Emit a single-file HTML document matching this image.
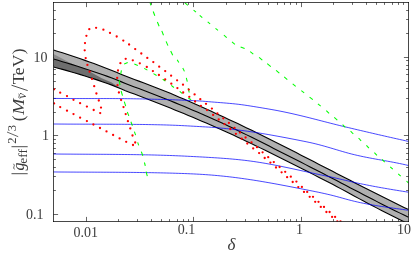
<!DOCTYPE html>
<html><head><meta charset="utf-8"><title>plot</title>
<style>
html,body{margin:0;padding:0;background:#fff;}
svg{display:block;will-change:transform;opacity:0.999;}
text{font-family:"Liberation Serif",serif;}
</style></head><body>
<svg width="415" height="264" viewBox="0 0 415 264">
<rect width="415" height="264" fill="#fff"/>
<defs><clipPath id="c"><rect x="53.5" y="2.5" width="355.0" height="219.0"/></clipPath></defs>
<g clip-path="url(#c)">
</g>
<path d="M86.5,221.5 v-4.6 M86.5,2.5 v4.6 M118.5,221.5 v-2.4 M118.5,2.5 v2.4 M137.5,221.5 v-2.4 M137.5,2.5 v2.4 M151.5,221.5 v-2.4 M151.5,2.5 v2.4 M161.5,221.5 v-2.4 M161.5,2.5 v2.4 M169.5,221.5 v-2.4 M169.5,2.5 v2.4 M177.5,221.5 v-2.4 M177.5,2.5 v2.4 M183.5,221.5 v-2.4 M183.5,2.5 v2.4 M188.5,221.5 v-2.4 M188.5,2.5 v2.4 M193.5,221.5 v-4.6 M193.5,2.5 v4.6 M226.5,221.5 v-2.4 M226.5,2.5 v2.4 M245.5,221.5 v-2.4 M245.5,2.5 v2.4 M258.5,221.5 v-2.4 M258.5,2.5 v2.4 M268.5,221.5 v-2.4 M268.5,2.5 v2.4 M277.5,221.5 v-2.4 M277.5,2.5 v2.4 M284.5,221.5 v-2.4 M284.5,2.5 v2.4 M290.5,221.5 v-2.4 M290.5,2.5 v2.4 M296.5,221.5 v-2.4 M296.5,2.5 v2.4 M301.5,221.5 v-4.6 M301.5,2.5 v4.6 M333.5,221.5 v-2.4 M333.5,2.5 v2.4 M352.5,221.5 v-2.4 M352.5,2.5 v2.4 M366.5,221.5 v-2.4 M366.5,2.5 v2.4 M376.5,221.5 v-2.4 M376.5,2.5 v2.4 M384.5,221.5 v-2.4 M384.5,2.5 v2.4 M392.5,221.5 v-2.4 M392.5,2.5 v2.4 M398.5,221.5 v-2.4 M398.5,2.5 v2.4 M403.5,221.5 v-2.4 M403.5,2.5 v2.4 M53.5,214.5 h4.6 M408.5,214.5 h-4.6 M53.5,190.5 h2.4 M408.5,190.5 h-2.4 M53.5,176.5 h2.4 M408.5,176.5 h-2.4 M53.5,167.5 h2.4 M408.5,167.5 h-2.4 M53.5,159.5 h2.4 M408.5,159.5 h-2.4 M53.5,153.5 h2.4 M408.5,153.5 h-2.4 M53.5,148.5 h2.4 M408.5,148.5 h-2.4 M53.5,143.5 h2.4 M408.5,143.5 h-2.4 M53.5,139.5 h2.4 M408.5,139.5 h-2.4 M53.5,135.5 h4.6 M408.5,135.5 h-4.6 M53.5,112.5 h2.4 M408.5,112.5 h-2.4 M53.5,98.5 h2.4 M408.5,98.5 h-2.4 M53.5,88.5 h2.4 M408.5,88.5 h-2.4 M53.5,81.5 h2.4 M408.5,81.5 h-2.4 M53.5,74.5 h2.4 M408.5,74.5 h-2.4 M53.5,69.5 h2.4 M408.5,69.5 h-2.4 M53.5,65.5 h2.4 M408.5,65.5 h-2.4 M53.5,60.5 h2.4 M408.5,60.5 h-2.4 M53.5,57.5 h4.6 M408.5,57.5 h-4.6 M53.5,33.5 h2.4 M408.5,33.5 h-2.4 M53.5,19.5 h2.4 M408.5,19.5 h-2.4 M53.5,10.5 h2.4 M408.5,10.5 h-2.4" stroke="#000" stroke-width="0.6" fill="none"/>
<g clip-path="url(#c)">
<path d="M53.50,50.03 L57.99,51.42 L62.49,52.85 L66.98,54.30 L71.47,55.78 L75.97,57.28 L80.46,58.81 L84.96,60.38 L89.45,61.96 L93.94,63.59 L98.44,65.28 L102.93,67.01 L107.42,68.78 L111.92,70.56 L116.41,72.36 L120.91,74.16 L125.40,75.94 L129.89,77.70 L134.39,79.43 L138.88,81.13 L143.37,82.82 L147.87,84.50 L152.36,86.20 L156.85,87.93 L161.35,89.68 L165.84,91.49 L170.34,93.35 L174.83,95.26 L179.32,97.17 L183.82,99.11 L188.31,101.06 L192.80,103.03 L197.30,105.02 L201.79,107.02 L206.28,109.04 L210.78,111.08 L215.27,113.13 L219.77,115.20 L224.26,117.28 L228.75,119.38 L233.25,121.49 L237.74,123.62 L242.23,125.76 L246.73,127.92 L251.22,130.09 L255.72,132.27 L260.21,134.47 L264.70,136.69 L269.20,138.93 L273.69,141.18 L278.18,143.44 L282.68,145.71 L287.17,147.99 L291.66,150.29 L296.16,152.59 L300.65,154.89 L305.15,157.20 L309.64,159.52 L314.13,161.84 L318.63,164.16 L323.12,166.48 L327.61,168.79 L332.11,171.11 L336.60,173.42 L341.09,175.74 L345.59,178.05 L350.08,180.35 L354.58,182.66 L359.07,184.95 L363.56,187.24 L368.06,189.53 L372.55,191.81 L377.04,194.07 L381.54,196.33 L386.03,198.58 L390.53,200.81 L395.02,203.03 L399.51,205.24 L404.01,207.43 L408.50,209.60 L408.50,224.03 L404.01,221.79 L399.51,219.54 L395.02,217.27 L390.53,215.00 L386.03,212.71 L381.54,210.42 L377.04,208.12 L372.55,205.81 L368.06,203.45 L363.56,201.06 L359.07,198.63 L354.58,196.19 L350.08,193.75 L345.59,191.30 L341.09,188.88 L336.60,186.47 L332.11,184.10 L327.61,181.77 L323.12,179.46 L318.63,177.16 L314.13,174.87 L309.64,172.59 L305.15,170.31 L300.65,168.05 L296.16,165.78 L291.66,163.52 L287.17,161.26 L282.68,159.00 L278.18,156.76 L273.69,154.52 L269.20,152.29 L264.70,150.08 L260.21,147.88 L255.72,145.70 L251.22,143.53 L246.73,141.38 L242.23,139.27 L237.74,137.18 L233.25,135.12 L228.75,133.08 L224.26,131.06 L219.77,129.05 L215.27,127.06 L210.78,125.08 L206.28,123.11 L201.79,121.17 L197.30,119.24 L192.80,117.34 L188.31,115.45 L183.82,113.59 L179.32,111.73 L174.83,109.89 L170.34,108.07 L165.84,106.25 L161.35,104.45 L156.85,102.67 L152.36,100.90 L147.87,99.16 L143.37,97.44 L138.88,95.74 L134.39,94.07 L129.89,92.41 L125.40,90.67 L120.91,88.80 L116.41,86.92 L111.92,85.12 L107.42,83.48 L102.93,81.90 L98.44,80.36 L93.94,78.87 L89.45,77.42 L84.96,76.00 L80.46,74.61 L75.97,73.26 L71.47,71.94 L66.98,70.65 L62.49,69.40 L57.99,68.18 L53.50,67.01Z" fill="#b0b0b0" stroke="none"/>
<path d="M53.5,54 L75,65.5 L53.5,59.0 Z" fill="#8a8a8a"/>
<path d="M53.50,59.00 L56.36,59.84 L59.23,60.69 L62.09,61.54 L64.95,62.41 L67.82,63.27 L70.68,64.15 L73.55,65.04 L76.41,65.94 L79.27,66.85 L82.14,67.77 L85.00,68.71 L91.90,72.80 L101.70,78.30 L111.60,82.40 L121.00,88.84 L121.00,88.84 L118.19,87.66 L115.38,86.51 L112.56,85.38 L109.75,84.33 L106.94,83.31 L104.12,82.32 L101.31,81.34 L98.50,80.38 L95.69,79.45 L92.88,78.52 L90.06,77.61 L87.25,76.72 L84.44,75.84 L81.62,74.97 L78.81,74.12 L76.00,73.27 L73.19,72.44 L70.38,71.62 L67.56,70.82 L64.75,70.03 L61.94,69.25 L59.12,68.49 L56.31,67.75 L53.50,67.01Z" fill="#6e6e6e"/>
<path d="M53.50,50.03 L57.99,51.42 L62.49,52.85 L66.98,54.30 L71.47,55.78 L75.97,57.28 L80.46,58.81 L84.96,60.38 L89.45,61.96 L93.94,63.59 L98.44,65.28 L102.93,67.01 L107.42,68.78 L111.92,70.56 L116.41,72.36 L120.91,74.16 L125.40,75.94 L129.89,77.70 L134.39,79.43 L138.88,81.13 L143.37,82.82 L147.87,84.50 L152.36,86.20 L156.85,87.93 L161.35,89.68 L165.84,91.49 L170.34,93.35 L174.83,95.26 L179.32,97.17 L183.82,99.11 L188.31,101.06 L192.80,103.03 L197.30,105.02 L201.79,107.02 L206.28,109.04 L210.78,111.08 L215.27,113.13 L219.77,115.20 L224.26,117.28 L228.75,119.38 L233.25,121.49 L237.74,123.62 L242.23,125.76 L246.73,127.92 L251.22,130.09 L255.72,132.27 L260.21,134.47 L264.70,136.69 L269.20,138.93 L273.69,141.18 L278.18,143.44 L282.68,145.71 L287.17,147.99 L291.66,150.29 L296.16,152.59 L300.65,154.89 L305.15,157.20 L309.64,159.52 L314.13,161.84 L318.63,164.16 L323.12,166.48 L327.61,168.79 L332.11,171.11 L336.60,173.42 L341.09,175.74 L345.59,178.05 L350.08,180.35 L354.58,182.66 L359.07,184.95 L363.56,187.24 L368.06,189.53 L372.55,191.81 L377.04,194.07 L381.54,196.33 L386.03,198.58 L390.53,200.81 L395.02,203.03 L399.51,205.24 L404.01,207.43 L408.50,209.60" fill="none" stroke="#000" stroke-width="1.1"/>
<path d="M53.50,59.00 L57.99,60.32 L62.49,61.66 L66.98,63.02 L71.47,64.39 L75.97,65.80 L80.46,67.23 L84.96,68.69 L89.45,70.20 L93.94,71.73 L98.44,73.27 L102.93,74.83 L107.42,76.39 L111.92,77.99 L116.41,79.76 L120.91,81.63 L125.40,83.49 L129.89,85.24 L134.39,86.90 L138.88,88.57 L143.37,90.26 L147.87,91.97 L152.36,93.70 L156.85,95.45 L161.35,97.22 L165.84,99.00 L170.34,100.81 L174.83,102.63 L179.32,104.48 L183.82,106.35 L188.31,108.23 L192.80,110.14 L197.30,112.07 L201.79,114.02 L206.28,115.98 L210.78,117.97 L215.27,119.99 L219.77,122.04 L224.26,124.11 L228.75,126.22 L233.25,128.35 L237.74,130.51 L242.23,132.69 L246.73,134.88 L251.22,137.10 L255.72,139.33 L260.21,141.58 L264.70,143.84 L269.20,146.11 L273.69,148.39 L278.18,150.67 L282.68,152.96 L287.17,155.25 L291.66,157.53 L296.16,159.82 L300.65,162.10 L305.15,164.38 L309.64,166.67 L314.13,168.96 L318.63,171.26 L323.12,173.57 L327.61,175.90 L332.11,178.23 L336.60,180.58 L341.09,182.93 L345.59,185.28 L350.08,187.64 L354.58,189.99 L359.07,192.33 L363.56,194.67 L368.06,197.00 L372.55,199.32 L377.04,201.62 L381.54,203.91 L386.03,206.18 L390.53,208.43 L395.02,210.67 L399.51,212.88 L404.01,215.07 L408.50,217.24" fill="none" stroke="#000" stroke-width="1.1"/>
<path d="M53.50,67.01 L57.99,68.18 L62.49,69.40 L66.98,70.65 L71.47,71.94 L75.97,73.26 L80.46,74.61 L84.96,76.00 L89.45,77.42 L93.94,78.87 L98.44,80.36 L102.93,81.90 L107.42,83.48 L111.92,85.12 L116.41,86.92 L120.91,88.80 L125.40,90.67 L129.89,92.41 L134.39,94.07 L138.88,95.74 L143.37,97.44 L147.87,99.16 L152.36,100.90 L156.85,102.67 L161.35,104.45 L165.84,106.25 L170.34,108.07 L174.83,109.89 L179.32,111.73 L183.82,113.59 L188.31,115.45 L192.80,117.34 L197.30,119.24 L201.79,121.17 L206.28,123.11 L210.78,125.08 L215.27,127.06 L219.77,129.05 L224.26,131.06 L228.75,133.08 L233.25,135.12 L237.74,137.18 L242.23,139.27 L246.73,141.38 L251.22,143.53 L255.72,145.70 L260.21,147.88 L264.70,150.08 L269.20,152.29 L273.69,154.52 L278.18,156.76 L282.68,159.00 L287.17,161.26 L291.66,163.52 L296.16,165.78 L300.65,168.05 L305.15,170.31 L309.64,172.59 L314.13,174.87 L318.63,177.16 L323.12,179.46 L327.61,181.77 L332.11,184.10 L336.60,186.47 L341.09,188.88 L345.59,191.30 L350.08,193.75 L354.58,196.19 L359.07,198.63 L363.56,201.06 L368.06,203.45 L372.55,205.81 L377.04,208.12 L381.54,210.42 L386.03,212.71 L390.53,215.00 L395.02,217.27 L399.51,219.54 L404.01,221.79 L408.50,224.03" fill="none" stroke="#000" stroke-width="1.1"/>
<path d="M53.00,98.40 L55.99,98.44 L58.97,98.47 L61.96,98.50 L64.95,98.52 L67.94,98.53 L70.92,98.54 L73.91,98.55 L76.90,98.56 L79.89,98.56 L82.87,98.56 L85.86,98.56 L88.85,98.56 L91.84,98.55 L94.82,98.55 L97.81,98.55 L100.80,98.55 L103.79,98.55 L106.77,98.55 L109.76,98.56 L112.75,98.57 L115.74,98.58 L118.72,98.60 L121.71,98.62 L124.70,98.65 L127.68,98.69 L130.67,98.73 L133.66,98.77 L136.65,98.83 L139.63,98.89 L142.62,98.96 L145.61,99.04 L148.60,99.12 L151.58,99.19 L154.57,99.26 L157.56,99.32 L160.55,99.39 L163.53,99.46 L166.52,99.54 L169.51,99.63 L172.50,99.74 L175.48,99.86 L178.47,99.98 L181.46,100.11 L184.45,100.25 L187.43,100.39 L190.42,100.52 L193.41,100.65 L196.39,100.79 L199.38,100.96 L202.37,101.17 L205.36,101.41 L208.34,101.66 L211.33,101.91 L214.32,102.15 L217.31,102.38 L220.29,102.61 L223.28,102.85 L226.27,103.10 L229.26,103.36 L232.24,103.64 L235.23,103.95 L238.22,104.28 L241.21,104.65 L244.19,105.06 L247.18,105.50 L250.17,105.96 L253.16,106.44 L256.14,106.93 L259.13,107.42 L262.12,107.92 L265.11,108.42 L268.09,108.93 L271.08,109.44 L274.07,109.98 L277.05,110.53 L280.04,111.11 L283.03,111.71 L286.02,112.33 L289.00,112.98 L291.99,113.64 L294.98,114.32 L297.97,115.02 L300.95,115.73 L303.94,116.45 L306.93,117.18 L309.92,117.93 L312.90,118.69 L315.89,119.45 L318.88,120.22 L321.87,120.99 L324.85,121.76 L327.84,122.53 L330.83,123.30 L333.82,124.06 L336.80,124.81 L339.79,125.55 L342.78,126.28 L345.76,126.99 L348.75,127.70 L351.74,128.41 L354.73,129.12 L357.71,129.82 L360.70,130.53 L363.69,131.23 L366.68,131.92 L369.66,132.62 L372.65,133.31 L375.64,134.01 L378.63,134.69 L381.61,135.38 L384.60,136.06 L387.59,136.74 L390.58,137.42 L393.56,138.09 L396.55,138.76 L399.54,139.43 L402.53,140.09 L405.51,140.75 L408.50,141.40" fill="none" stroke="#0000ff" stroke-width="0.72"/>
<path d="M53.00,124.00 L55.99,124.03 L58.97,124.05 L61.96,124.07 L64.95,124.09 L67.94,124.11 L70.92,124.12 L73.91,124.13 L76.90,124.14 L79.89,124.15 L82.87,124.16 L85.86,124.17 L88.85,124.18 L91.84,124.18 L94.82,124.19 L97.81,124.19 L100.80,124.20 L103.79,124.21 L106.77,124.22 L109.76,124.23 L112.75,124.24 L115.74,124.25 L118.72,124.27 L121.71,124.28 L124.70,124.30 L127.68,124.33 L130.67,124.35 L133.66,124.38 L136.65,124.41 L139.63,124.45 L142.62,124.48 L145.61,124.53 L148.60,124.58 L151.58,124.63 L154.57,124.69 L157.56,124.75 L160.55,124.82 L163.53,124.90 L166.52,124.99 L169.51,125.08 L172.50,125.19 L175.48,125.30 L178.47,125.43 L181.46,125.57 L184.45,125.72 L187.43,125.88 L190.42,126.05 L193.41,126.22 L196.39,126.39 L199.38,126.56 L202.37,126.74 L205.36,126.91 L208.34,127.09 L211.33,127.29 L214.32,127.51 L217.31,127.75 L220.29,128.02 L223.28,128.30 L226.27,128.60 L229.26,128.92 L232.24,129.25 L235.23,129.61 L238.22,129.98 L241.21,130.37 L244.19,130.77 L247.18,131.19 L250.17,131.62 L253.16,132.07 L256.14,132.54 L259.13,133.01 L262.12,133.50 L265.11,134.00 L268.09,134.51 L271.08,135.04 L274.07,135.57 L277.05,136.11 L280.04,136.66 L283.03,137.22 L286.02,137.78 L289.00,138.35 L291.99,138.93 L294.98,139.51 L297.97,140.10 L300.95,140.69 L303.94,141.29 L306.93,141.90 L309.92,142.53 L312.90,143.20 L315.89,143.92 L318.88,144.68 L321.87,145.48 L324.85,146.31 L327.84,147.16 L330.83,148.04 L333.82,148.93 L336.80,149.82 L339.79,150.71 L342.78,151.59 L345.76,152.45 L348.75,153.27 L351.74,154.05 L354.73,154.78 L357.71,155.48 L360.70,156.14 L363.69,156.77 L366.68,157.37 L369.66,157.95 L372.65,158.51 L375.64,159.06 L378.63,159.60 L381.61,160.13 L384.60,160.67 L387.59,161.21 L390.58,161.75 L393.56,162.32 L396.55,162.90 L399.54,163.50 L402.53,164.14 L405.51,164.80 L408.50,165.50" fill="none" stroke="#0000ff" stroke-width="0.72"/>
<path d="M53.00,154.00 L55.99,154.03 L58.97,154.06 L61.96,154.08 L64.95,154.10 L67.94,154.12 L70.92,154.14 L73.91,154.16 L76.90,154.18 L79.89,154.19 L82.87,154.21 L85.86,154.23 L88.85,154.24 L91.84,154.26 L94.82,154.27 L97.81,154.29 L100.80,154.30 L103.79,154.32 L106.77,154.34 L109.76,154.36 L112.75,154.39 L115.74,154.41 L118.72,154.44 L121.71,154.47 L124.70,154.50 L127.68,154.54 L130.67,154.58 L133.66,154.62 L136.65,154.66 L139.63,154.71 L142.62,154.77 L145.61,154.83 L148.60,154.89 L151.58,154.96 L154.57,155.03 L157.56,155.11 L160.55,155.19 L163.53,155.29 L166.52,155.38 L169.51,155.48 L172.50,155.59 L175.48,155.71 L178.47,155.83 L181.46,155.96 L184.45,156.10 L187.43,156.25 L190.42,156.40 L193.41,156.55 L196.39,156.71 L199.38,156.87 L202.37,157.03 L205.36,157.19 L208.34,157.36 L211.33,157.54 L214.32,157.72 L217.31,157.91 L220.29,158.11 L223.28,158.33 L226.27,158.55 L229.26,158.79 L232.24,159.05 L235.23,159.33 L238.22,159.62 L241.21,159.94 L244.19,160.28 L247.18,160.64 L250.17,161.02 L253.16,161.43 L256.14,161.87 L259.13,162.33 L262.12,162.82 L265.11,163.32 L268.09,163.85 L271.08,164.39 L274.07,164.96 L277.05,165.53 L280.04,166.13 L283.03,166.74 L286.02,167.36 L289.00,167.99 L291.99,168.63 L294.98,169.28 L297.97,169.93 L300.95,170.59 L303.94,171.25 L306.93,171.91 L309.92,172.56 L312.90,173.21 L315.89,173.85 L318.88,174.48 L321.87,175.10 L324.85,175.72 L327.84,176.35 L330.83,176.98 L333.82,177.64 L336.80,178.31 L339.79,179.00 L342.78,179.71 L345.76,180.41 L348.75,181.11 L351.74,181.80 L354.73,182.46 L357.71,183.11 L360.70,183.74 L363.69,184.35 L366.68,184.95 L369.66,185.54 L372.65,186.11 L375.64,186.67 L378.63,187.22 L381.61,187.75 L384.60,188.28 L387.59,188.79 L390.58,189.30 L393.56,189.80 L396.55,190.29 L399.54,190.77 L402.53,191.25 L405.51,191.73 L408.50,192.20" fill="none" stroke="#0000ff" stroke-width="0.72"/>
<path d="M53.00,171.95 L55.99,171.98 L58.97,172.00 L61.96,172.02 L64.95,172.04 L67.94,172.06 L70.92,172.08 L73.91,172.09 L76.90,172.11 L79.89,172.12 L82.87,172.13 L85.86,172.14 L88.85,172.16 L91.84,172.17 L94.82,172.18 L97.81,172.19 L100.80,172.20 L103.79,172.22 L106.77,172.23 L109.76,172.25 L112.75,172.26 L115.74,172.28 L118.72,172.30 L121.71,172.32 L124.70,172.34 L127.68,172.37 L130.67,172.40 L133.66,172.43 L136.65,172.46 L139.63,172.50 L142.62,172.54 L145.61,172.58 L148.60,172.63 L151.58,172.68 L154.57,172.74 L157.56,172.80 L160.55,172.86 L163.53,172.93 L166.52,173.00 L169.51,173.08 L172.50,173.17 L175.48,173.25 L178.47,173.35 L181.46,173.45 L184.45,173.56 L187.43,173.67 L190.42,173.80 L193.41,173.93 L196.39,174.08 L199.38,174.24 L202.37,174.42 L205.36,174.61 L208.34,174.83 L211.33,175.06 L214.32,175.30 L217.31,175.57 L220.29,175.86 L223.28,176.16 L226.27,176.48 L229.26,176.82 L232.24,177.17 L235.23,177.54 L238.22,177.93 L241.21,178.33 L244.19,178.75 L247.18,179.18 L250.17,179.63 L253.16,180.09 L256.14,180.56 L259.13,181.04 L262.12,181.54 L265.11,182.05 L268.09,182.57 L271.08,183.10 L274.07,183.64 L277.05,184.18 L280.04,184.74 L283.03,185.30 L286.02,185.87 L289.00,186.44 L291.99,187.02 L294.98,187.60 L297.97,188.18 L300.95,188.77 L303.94,189.36 L306.93,189.95 L309.92,190.54 L312.90,191.13 L315.89,191.74 L318.88,192.35 L321.87,192.99 L324.85,193.65 L327.84,194.33 L330.83,195.04 L333.82,195.79 L336.80,196.58 L339.79,197.40 L342.78,198.23 L345.76,199.06 L348.75,199.87 L351.74,200.64 L354.73,201.37 L357.71,202.06 L360.70,202.71 L363.69,203.33 L366.68,203.92 L369.66,204.47 L372.65,205.00 L375.64,205.51 L378.63,205.99 L381.61,206.46 L384.60,206.91 L387.59,207.35 L390.58,207.78 L393.56,208.20 L396.55,208.62 L399.54,209.03 L402.53,209.45 L405.51,209.87 L408.50,210.30" fill="none" stroke="#0000ff" stroke-width="0.72"/>
<line x1="150.1" y1="2.6" x2="150.9" y2="5.3" stroke="#00ff00" stroke-width="1.05"/>
<line x1="153.2" y1="11.5" x2="154.8" y2="15.8" stroke="#00ff00" stroke-width="1.05"/>
<line x1="157.4" y1="22.0" x2="159.1" y2="26.2" stroke="#00ff00" stroke-width="1.05"/>
<line x1="161.8" y1="30.9" x2="163.5" y2="35.2" stroke="#00ff00" stroke-width="1.05"/>
<line x1="166.1" y1="41.4" x2="167.9" y2="45.6" stroke="#00ff00" stroke-width="1.05"/>
<line x1="170.7" y1="51.0" x2="172.7" y2="55.3" stroke="#00ff00" stroke-width="1.05"/>
<line x1="177.2" y1="59.7" x2="178.8" y2="62.6" stroke="#00ff00" stroke-width="1.05"/>
<line x1="182.8" y1="68.0" x2="184.4" y2="71.4" stroke="#00ff00" stroke-width="1.05"/>
<line x1="186.3" y1="77.8" x2="187.3" y2="81.6" stroke="#00ff00" stroke-width="1.05"/>
<line x1="188.2" y1="88.1" x2="189.2" y2="92.5" stroke="#00ff00" stroke-width="1.05"/>
<line x1="188.3" y1="98.0" x2="191.1" y2="99.8" stroke="#00ff00" stroke-width="1.05"/>
<line x1="179.7" y1="91.4" x2="182.4" y2="93.6" stroke="#00ff00" stroke-width="1.05"/>
<line x1="171.2" y1="85.3" x2="173.9" y2="87.5" stroke="#00ff00" stroke-width="1.05"/>
<line x1="162.7" y1="79.2" x2="165.4" y2="81.0" stroke="#00ff00" stroke-width="1.05"/>
<line x1="153.5" y1="73.6" x2="156.6" y2="75.5" stroke="#00ff00" stroke-width="1.05"/>
<line x1="144.2" y1="68.4" x2="147.4" y2="70.1" stroke="#00ff00" stroke-width="1.05"/>
<line x1="134.3" y1="64.1" x2="137.8" y2="65.5" stroke="#00ff00" stroke-width="1.05"/>
<line x1="124.2" y1="63.9" x2="127.7" y2="62.4" stroke="#00ff00" stroke-width="1.05"/>
<line x1="121.4" y1="70.3" x2="120.7" y2="74.1" stroke="#00ff00" stroke-width="1.05"/>
<line x1="119.2" y1="80.1" x2="120.0" y2="85.2" stroke="#00ff00" stroke-width="1.05"/>
<line x1="121.1" y1="91.0" x2="122.5" y2="95.7" stroke="#00ff00" stroke-width="1.05"/>
<line x1="124.3" y1="101.6" x2="125.7" y2="106.2" stroke="#00ff00" stroke-width="1.05"/>
<line x1="127.3" y1="112.0" x2="128.8" y2="115.9" stroke="#00ff00" stroke-width="1.05"/>
<line x1="130.9" y1="121.7" x2="132.4" y2="125.7" stroke="#00ff00" stroke-width="1.05"/>
<line x1="134.4" y1="131.7" x2="135.6" y2="135.2" stroke="#00ff00" stroke-width="1.05"/>
<line x1="137.7" y1="142.4" x2="138.7" y2="145.4" stroke="#00ff00" stroke-width="1.05"/>
<line x1="141.3" y1="151.6" x2="142.8" y2="155.8" stroke="#00ff00" stroke-width="1.05"/>
<line x1="144.4" y1="162.5" x2="145.3" y2="165.9" stroke="#00ff00" stroke-width="1.05"/>
<line x1="146.1" y1="171.7" x2="147.3" y2="176.1" stroke="#00ff00" stroke-width="1.05"/>
<line x1="185.0" y1="2.8" x2="187.8" y2="5.3" stroke="#00ff00" stroke-width="1.05"/>
<line x1="193.6" y1="10.1" x2="196.0" y2="12.1" stroke="#00ff00" stroke-width="1.05"/>
<line x1="199.7" y1="15.4" x2="202.3" y2="17.7" stroke="#00ff00" stroke-width="1.05"/>
<line x1="207.7" y1="21.8" x2="210.1" y2="23.8" stroke="#00ff00" stroke-width="1.05"/>
<line x1="215.5" y1="28.3" x2="218.0" y2="30.3" stroke="#00ff00" stroke-width="1.05"/>
<line x1="223.9" y1="35.1" x2="226.7" y2="37.6" stroke="#00ff00" stroke-width="1.05"/>
<line x1="232.0" y1="41.9" x2="234.9" y2="44.4" stroke="#00ff00" stroke-width="1.05"/>
<line x1="240.6" y1="47.0" x2="244.6" y2="48.5" stroke="#00ff00" stroke-width="1.05"/>
<line x1="250.2" y1="51.6" x2="253.3" y2="54.1" stroke="#00ff00" stroke-width="1.05"/>
<line x1="259.1" y1="57.4" x2="262.3" y2="60.2" stroke="#00ff00" stroke-width="1.05"/>
<line x1="267.2" y1="63.7" x2="270.8" y2="66.7" stroke="#00ff00" stroke-width="1.05"/>
<line x1="276.1" y1="70.3" x2="279.3" y2="73.1" stroke="#00ff00" stroke-width="1.05"/>
<line x1="284.2" y1="76.9" x2="287.3" y2="79.6" stroke="#00ff00" stroke-width="1.05"/>
<line x1="292.7" y1="83.9" x2="295.7" y2="86.4" stroke="#00ff00" stroke-width="1.05"/>
<line x1="301.3" y1="90.6" x2="304.2" y2="92.8" stroke="#00ff00" stroke-width="1.05"/>
<line x1="309.6" y1="97.1" x2="312.8" y2="99.6" stroke="#00ff00" stroke-width="1.05"/>
<line x1="317.9" y1="103.8" x2="320.7" y2="106.1" stroke="#00ff00" stroke-width="1.05"/>
<line x1="326.3" y1="110.6" x2="329.1" y2="113.3" stroke="#00ff00" stroke-width="1.05"/>
<line x1="334.3" y1="117.4" x2="337.3" y2="120.1" stroke="#00ff00" stroke-width="1.05"/>
<line x1="342.6" y1="124.7" x2="345.3" y2="127.4" stroke="#00ff00" stroke-width="1.05"/>
<line x1="350.6" y1="131.2" x2="353.3" y2="134.0" stroke="#00ff00" stroke-width="1.05"/>
<line x1="358.6" y1="138.0" x2="361.1" y2="140.8" stroke="#00ff00" stroke-width="1.05"/>
<line x1="366.4" y1="145.3" x2="368.9" y2="148.1" stroke="#00ff00" stroke-width="1.05"/>
<line x1="374.4" y1="152.6" x2="376.9" y2="155.3" stroke="#00ff00" stroke-width="1.05"/>
<line x1="382.1" y1="159.4" x2="384.7" y2="162.1" stroke="#00ff00" stroke-width="1.05"/>
<line x1="390.2" y1="166.8" x2="392.8" y2="169.2" stroke="#00ff00" stroke-width="1.05"/>
<line x1="398.2" y1="173.9" x2="400.7" y2="176.2" stroke="#00ff00" stroke-width="1.05"/>
<line x1="406.5" y1="181.0" x2="408.6" y2="183.1" stroke="#00ff00" stroke-width="1.05"/>
<circle cx="54.1" cy="89.3" r="1.15" fill="#ff0000"/>
<circle cx="60.2" cy="92.7" r="1.15" fill="#ff0000"/>
<circle cx="67" cy="96.1" r="1.15" fill="#ff0000"/>
<circle cx="73.5" cy="99.8" r="1.15" fill="#ff0000"/>
<circle cx="80.1" cy="103.2" r="1.15" fill="#ff0000"/>
<circle cx="86.9" cy="106.6" r="1.15" fill="#ff0000"/>
<circle cx="93.7" cy="110" r="1.15" fill="#ff0000"/>
<circle cx="100.2" cy="113.1" r="1.15" fill="#ff0000"/>
<circle cx="101" cy="107.6" r="1.15" fill="#ff0000"/>
<circle cx="98.8" cy="100.5" r="1.15" fill="#ff0000"/>
<circle cx="96.4" cy="93.5" r="1.15" fill="#ff0000"/>
<circle cx="94.2" cy="86.2" r="1.15" fill="#ff0000"/>
<circle cx="92" cy="78.9" r="1.15" fill="#ff0000"/>
<circle cx="89.6" cy="71.7" r="1.15" fill="#ff0000"/>
<circle cx="87.4" cy="64.9" r="1.15" fill="#ff0000"/>
<circle cx="85.7" cy="58.1" r="1.15" fill="#ff0000"/>
<circle cx="84.7" cy="50.3" r="1.15" fill="#ff0000"/>
<circle cx="85" cy="43.1" r="1.15" fill="#ff0000"/>
<circle cx="86.4" cy="35.8" r="1.15" fill="#ff0000"/>
<circle cx="89.3" cy="29.2" r="1.15" fill="#ff0000"/>
<circle cx="96.1" cy="27.8" r="1.15" fill="#ff0000"/>
<circle cx="103.4" cy="29.7" r="1.15" fill="#ff0000"/>
<circle cx="110" cy="32.9" r="1.15" fill="#ff0000"/>
<circle cx="116.7" cy="36.5" r="1.15" fill="#ff0000"/>
<circle cx="123.3" cy="40.6" r="1.15" fill="#ff0000"/>
<circle cx="129.1" cy="44.5" r="1.15" fill="#ff0000"/>
<circle cx="135.2" cy="49.1" r="1.15" fill="#ff0000"/>
<circle cx="141.3" cy="53.5" r="1.15" fill="#ff0000"/>
<circle cx="147.3" cy="57.9" r="1.15" fill="#ff0000"/>
<circle cx="153.3" cy="62.1" r="1.15" fill="#ff0000"/>
<circle cx="159.2" cy="66.7" r="1.15" fill="#ff0000"/>
<circle cx="165.2" cy="71.1" r="1.15" fill="#ff0000"/>
<circle cx="171.1" cy="75.7" r="1.15" fill="#ff0000"/>
<circle cx="177.1" cy="80.3" r="1.15" fill="#ff0000"/>
<circle cx="183" cy="84.7" r="1.15" fill="#ff0000"/>
<circle cx="188.8" cy="89.6" r="1.15" fill="#ff0000"/>
<circle cx="194.6" cy="94.4" r="1.15" fill="#ff0000"/>
<circle cx="200.3" cy="99.2" r="1.15" fill="#ff0000"/>
<circle cx="206" cy="103.8" r="1.15" fill="#ff0000"/>
<circle cx="211.9" cy="108.6" r="1.15" fill="#ff0000"/>
<circle cx="217.4" cy="113.5" r="1.15" fill="#ff0000"/>
<circle cx="223.3" cy="118.3" r="1.15" fill="#ff0000"/>
<circle cx="228.9" cy="122.9" r="1.15" fill="#ff0000"/>
<circle cx="234.5" cy="127.8" r="1.15" fill="#ff0000"/>
<circle cx="240" cy="132.6" r="1.15" fill="#ff0000"/>
<circle cx="245.6" cy="137.5" r="1.15" fill="#ff0000"/>
<circle cx="251.5" cy="142.3" r="1.15" fill="#ff0000"/>
<circle cx="257" cy="147.2" r="1.15" fill="#ff0000"/>
<circle cx="262.6" cy="152.3" r="1.15" fill="#ff0000"/>
<circle cx="268.2" cy="157.2" r="1.15" fill="#ff0000"/>
<circle cx="273.8" cy="162.1" r="1.15" fill="#ff0000"/>
<circle cx="279.6" cy="167" r="1.15" fill="#ff0000"/>
<circle cx="285.2" cy="171.8" r="1.15" fill="#ff0000"/>
<circle cx="290.8" cy="176.7" r="1.15" fill="#ff0000"/>
<circle cx="296.4" cy="181.6" r="1.15" fill="#ff0000"/>
<circle cx="301.9" cy="186.9" r="1.15" fill="#ff0000"/>
<circle cx="307.2" cy="191.9" r="1.15" fill="#ff0000"/>
<circle cx="313" cy="196.8" r="1.15" fill="#ff0000"/>
<circle cx="318.5" cy="201.8" r="1.15" fill="#ff0000"/>
<circle cx="324" cy="206.9" r="1.15" fill="#ff0000"/>
<circle cx="329.6" cy="212" r="1.15" fill="#ff0000"/>
<circle cx="335.1" cy="216.9" r="1.15" fill="#ff0000"/>
<circle cx="340.5" cy="221.4" r="1.15" fill="#ff0000"/>
<circle cx="54.1" cy="103.4" r="1.15" fill="#ff0000"/>
<circle cx="60.2" cy="107.1" r="1.15" fill="#ff0000"/>
<circle cx="67" cy="110.7" r="1.15" fill="#ff0000"/>
<circle cx="73.5" cy="114.1" r="1.15" fill="#ff0000"/>
<circle cx="80.1" cy="117.7" r="1.15" fill="#ff0000"/>
<circle cx="86.9" cy="121.1" r="1.15" fill="#ff0000"/>
<circle cx="93.4" cy="124.5" r="1.15" fill="#ff0000"/>
<circle cx="100" cy="128" r="1.15" fill="#ff0000"/>
<circle cx="106.5" cy="131.4" r="1.15" fill="#ff0000"/>
<circle cx="113.1" cy="135" r="1.15" fill="#ff0000"/>
<circle cx="119.6" cy="138.4" r="1.15" fill="#ff0000"/>
<circle cx="126.2" cy="141.8" r="1.15" fill="#ff0000"/>
<circle cx="133" cy="145" r="1.15" fill="#ff0000"/>
<circle cx="135.2" cy="142.5" r="1.15" fill="#ff0000"/>
<circle cx="132.5" cy="135.5" r="1.15" fill="#ff0000"/>
<circle cx="130.3" cy="128.4" r="1.15" fill="#ff0000"/>
<circle cx="127.9" cy="121.2" r="1.15" fill="#ff0000"/>
<circle cx="125.7" cy="114.1" r="1.15" fill="#ff0000"/>
<circle cx="123.5" cy="107.1" r="1.15" fill="#ff0000"/>
<circle cx="121.1" cy="100" r="1.15" fill="#ff0000"/>
<circle cx="118.9" cy="92.5" r="1.15" fill="#ff0000"/>
<circle cx="117.5" cy="85.2" r="1.15" fill="#ff0000"/>
<circle cx="117.2" cy="77.9" r="1.15" fill="#ff0000"/>
<circle cx="118" cy="70.5" r="1.15" fill="#ff0000"/>
<circle cx="120.4" cy="63.2" r="1.15" fill="#ff0000"/>
<circle cx="125.7" cy="58.8" r="1.15" fill="#ff0000"/>
<circle cx="132.8" cy="60.3" r="1.15" fill="#ff0000"/>
<circle cx="139.8" cy="63.3" r="1.15" fill="#ff0000"/>
<circle cx="146.8" cy="67" r="1.15" fill="#ff0000"/>
<circle cx="152.9" cy="71.1" r="1.15" fill="#ff0000"/>
<circle cx="158.9" cy="75" r="1.15" fill="#ff0000"/>
<circle cx="165.2" cy="79.4" r="1.15" fill="#ff0000"/>
<circle cx="171.3" cy="83.7" r="1.15" fill="#ff0000"/>
<circle cx="177.4" cy="88.1" r="1.15" fill="#ff0000"/>
<circle cx="183.2" cy="92.5" r="1.15" fill="#ff0000"/>
<circle cx="189.3" cy="96.8" r="1.15" fill="#ff0000"/>
<circle cx="195.1" cy="101.5" r="1.15" fill="#ff0000"/>
<circle cx="200.9" cy="105.8" r="1.15" fill="#ff0000"/>
<circle cx="207" cy="110.1" r="1.15" fill="#ff0000"/>
<circle cx="213.1" cy="114.9" r="1.15" fill="#ff0000"/>
<circle cx="218.7" cy="119.5" r="1.15" fill="#ff0000"/>
<circle cx="224.5" cy="124.1" r="1.15" fill="#ff0000"/>
<circle cx="230.3" cy="129" r="1.15" fill="#ff0000"/>
<circle cx="235.9" cy="133.8" r="1.15" fill="#ff0000"/>
<circle cx="241.7" cy="138.7" r="1.15" fill="#ff0000"/>
<circle cx="247.3" cy="143.5" r="1.15" fill="#ff0000"/>
<circle cx="253.2" cy="148.4" r="1.15" fill="#ff0000"/>
<circle cx="259.1" cy="153.1" r="1.15" fill="#ff0000"/>
<circle cx="264.7" cy="158" r="1.15" fill="#ff0000"/>
<circle cx="270.4" cy="162.6" r="1.15" fill="#ff0000"/>
<circle cx="276" cy="167.5" r="1.15" fill="#ff0000"/>
<circle cx="281.6" cy="172.3" r="1.15" fill="#ff0000"/>
<circle cx="287.1" cy="177.2" r="1.15" fill="#ff0000"/>
<circle cx="292.7" cy="182" r="1.15" fill="#ff0000"/>
<circle cx="298.3" cy="187.1" r="1.15" fill="#ff0000"/>
<circle cx="304" cy="191.9" r="1.15" fill="#ff0000"/>
<circle cx="309.7" cy="196.8" r="1.15" fill="#ff0000"/>
<circle cx="315.2" cy="201.8" r="1.15" fill="#ff0000"/>
<circle cx="320.8" cy="206.9" r="1.15" fill="#ff0000"/>
<circle cx="326.4" cy="212" r="1.15" fill="#ff0000"/>
<circle cx="332.1" cy="216.9" r="1.15" fill="#ff0000"/>
<circle cx="337.3" cy="221.4" r="1.15" fill="#ff0000"/>
</g>
<line x1="53.5" y1="2.0" x2="53.5" y2="222.0" stroke="#000" stroke-width="0.72"/>
<line x1="408.5" y1="2.0" x2="408.5" y2="222.0" stroke="#000" stroke-width="0.72"/>
<line x1="53.0" y1="2.5" x2="409.0" y2="2.5" stroke="#000" stroke-width="0.72"/>
<line x1="53.0" y1="221.5" x2="409.0" y2="221.5" stroke="#000" stroke-width="0.72"/>
<text x="85.8" y="237.1" font-size="14" text-anchor="middle" fill="#3c3c3c">0.01</text>
<text x="186.4" y="233.9" font-size="14" text-anchor="middle" fill="#3c3c3c">0.1</text>
<text x="299.6" y="233.6" font-size="14" text-anchor="middle" fill="#3c3c3c">1</text>
<text x="404.0" y="233.6" font-size="14" text-anchor="middle" fill="#3c3c3c">10</text>
<text x="40.5" y="62.0" font-size="14" text-anchor="middle" fill="#3c3c3c">10</text>
<text x="45.5" y="140.0" font-size="14" text-anchor="middle" fill="#3c3c3c">1</text>
<text x="34.7" y="218.8" font-size="14" text-anchor="middle" fill="#3c3c3c">0.1</text>
<text x="231.5" y="250.1" font-size="17" text-anchor="middle" fill="#3c3c3c" font-style="italic">δ</text>
<g transform="translate(24.3,174) rotate(-90)">
<line x1="0.3" y1="-12.8" x2="0.3" y2="3.4" stroke="#3c3c3c" stroke-width="0.9"/>
<text x="0" y="0" font-size="15.8" text-anchor="middle" fill="#3c3c3c" font-style="italic" transform="translate(7.5,-0.3) scale(1.0,1)">g</text>
<path d="M4.6000000000000005,-9.82 q1.4,-1.4400000000000002 2.8,-0.48 t2.8,-0.48" fill="none" stroke="#3c3c3c" stroke-width="0.8"/>
<text x="0" y="0" font-size="12.3" text-anchor="middle" fill="#3c3c3c" transform="translate(17.6,2.2) scale(1.08,1)">eff</text>
<line x1="27.3" y1="-12.8" x2="27.3" y2="3.4" stroke="#3c3c3c" stroke-width="0.9"/>
<text x="0" y="0" font-size="12.5" text-anchor="middle" fill="#3c3c3c" transform="translate(33.45,-8.5) scale(1.0,1)">2</text>
<line x1="37.3" y1="-6.1" x2="42" y2="-17.3" stroke="#3c3c3c" stroke-width="0.8"/>
<text x="0" y="0" font-size="12.5" text-anchor="middle" fill="#3c3c3c" transform="translate(45.95,-8.5) scale(1.0,1)">3</text>
<text x="0" y="0" font-size="17.5" text-anchor="middle" fill="#3c3c3c" transform="translate(55.7,0) scale(1.0,1)">(</text>
<text x="0" y="0" font-size="17.5" text-anchor="middle" fill="#3c3c3c" font-style="italic" transform="translate(67.15,0) scale(1.1,1)">M</text>
<text x="0" y="0" font-size="11.5" text-anchor="middle" fill="#3c3c3c" font-style="italic" transform="translate(78.2,1.8) scale(1.15,1)">ν</text>
<path d="M75.5,-4.78 q1.2,-1.26 2.4,-0.42 t2.4,-0.42" fill="none" stroke="#3c3c3c" stroke-width="0.8"/>
<line x1="83.4" y1="3.4" x2="88.8" y2="-12.8" stroke="#3c3c3c" stroke-width="0.9"/>
<text x="0" y="0" font-size="17.5" text-anchor="middle" fill="#3c3c3c" transform="translate(95.05,0) scale(1.0,1)">T</text>
<text x="0" y="0" font-size="17.5" text-anchor="middle" fill="#3c3c3c" transform="translate(102.65,0) scale(1.0,1)">e</text>
<text x="0" y="0" font-size="17.5" text-anchor="middle" fill="#3c3c3c" transform="translate(113.0,0) scale(1.0,1)">V</text>
<text x="0" y="0" font-size="17.5" text-anchor="middle" fill="#3c3c3c" transform="translate(122.6,0) scale(1.0,1)">)</text>
</g>
</svg></body></html>
